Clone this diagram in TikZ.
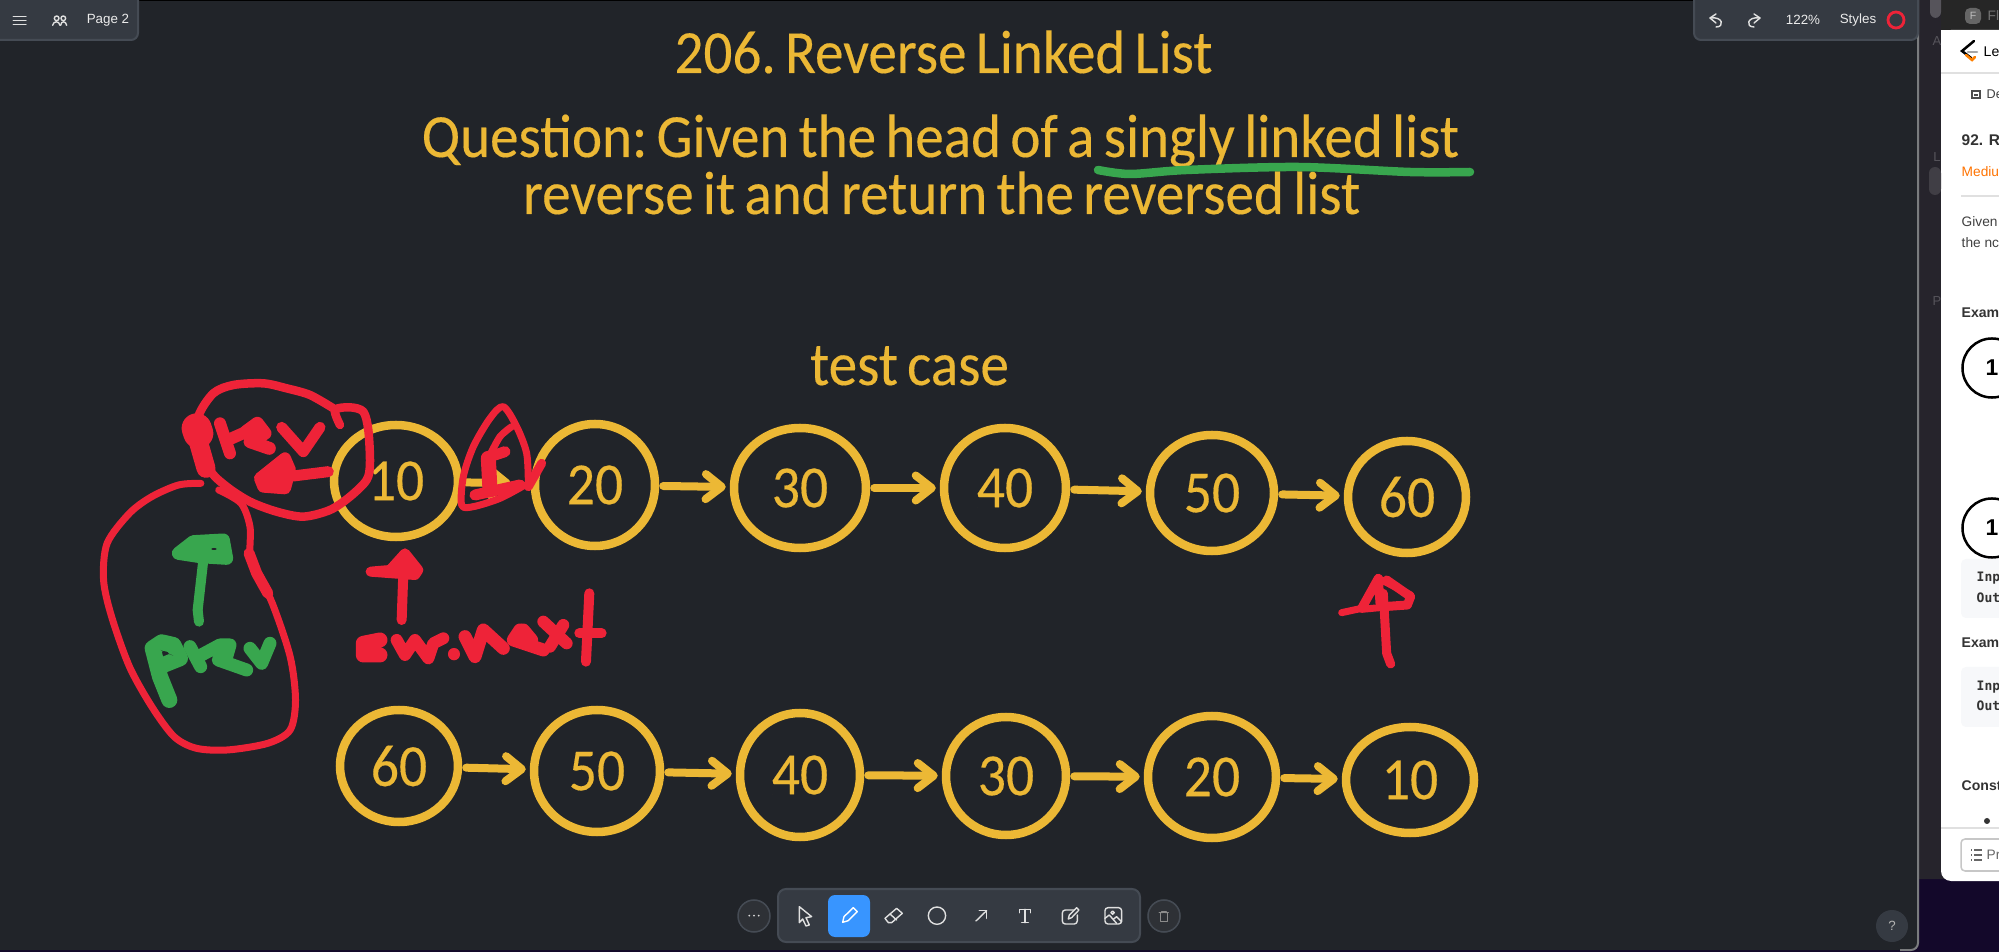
\documentclass[tikz,border=0pt]{standalone}
\usepackage{fontspec}
\setmainfont{Carlito}[FakeStretch=0.93, WordSpace=0.72, FakeBold=0.25]
\newfontfamily\uifont{Liberation Sans}
\newfontfamily\codefont{DejaVu Sans Mono}
\usetikzlibrary{shapes.geometric,arrows.meta}

\definecolor{canvasbg}{HTML}{212429}
\definecolor{panelbg}{HTML}{353A42}
\definecolor{panelline}{HTML}{454B54}
\definecolor{linkgold}{HTML}{ECB835}
\definecolor{inkred}{HTML}{EE2338}
\definecolor{inkgreen}{HTML}{38A64E}
\definecolor{toolblue}{HTML}{3895FF}
\definecolor{stripbg}{HTML}{26242C}
\definecolor{deskbg}{HTML}{13082A}
\definecolor{codebg}{HTML}{F7F8FA}

\tikzset{
  titletext/.style={text=linkgold, font=\frenchspacing\fontsize{17.45}{20}\selectfont, anchor=base, inner sep=0pt},
  listnode/.style={ellipse, draw=linkgold, line width=0.85mm, inner sep=0pt, text=linkgold, font=\fontsize{17}{20}\selectfont},
  linkarrow/.style={draw=linkgold, line width=0.8mm, line cap=round, line join=round, shorten <=0.4mm, shorten >=0.4mm, -{Straight Barb[length=1.6mm,width=2.5mm,round]}},
  redink/.style={draw=inkred, line width=0.7mm, line cap=round, line join=round},
  greenink/.style={draw=inkgreen, line width=1.3mm, line cap=round, line join=round},
  panelbox/.style={fill=panelbg, draw=panelline, line width=0.2mm},
  uiicon/.style={draw=white!88!black, line width=0.14mm, line cap=round, line join=round},
  uitext/.style={text=white!92!black, font=\uifont\fontsize{3.8}{4.4}\selectfont, inner sep=0pt},
  panetext/.style={anchor=west, inner sep=0pt, text=black!75, font=\uifont\fontsize{3.9}{5}\selectfont},
  panehead/.style={anchor=west, inner sep=0pt, text=black!80, font=\uifont\bfseries\fontsize{4}{5}\selectfont},
  panecode/.style={anchor=west, inner sep=0pt, text=black!80, font=\codefont\bfseries\fontsize{3.7}{5}\selectfont},
}

\begin{document}
\begin{tikzpicture}[x=0.01cm, y=-0.01cm]
  \useasboundingbox (0,0) rectangle (1999,952);

  % desktop behind and the canvas window
  \fill[deskbg] (0,0) rectangle (1999,952);
  \fill[stripbg, rounded corners=0.8mm] (1900,-10) rectangle (1999,879);
  \fill[black!85] (1941,0) rectangle (1999,32);
  \fill[canvasbg, rounded corners=0.7mm] (-20,-10) rectangle (1918,950);
  \draw[white!40!canvasbg, line width=0.2mm, rounded corners=0.7mm] (1918,0) -- (1918,950) -- (1900,950);
  \fill[black] (0,0) rectangle (1918,1);

  % right window
  \begin{scope}
    \clip (1900,0) rectangle (1999,952);
    \fill[white, rounded corners=1mm] (1941,30) rectangle (2040,881);
    \fill[white] (1941,30) rectangle (2040,60);
    \fill[white!22!stripbg, rounded corners=0.6mm] (1930,-10) rectangle (1941,18);
    \fill[white!12!stripbg, rounded corners=0.6mm] (1929,167) rectangle (1941,195);
    \node[text=white!22!stripbg, font=\uifont\fontsize{3.7}{4.4}\selectfont, inner sep=0pt] (letterA) at (1937,41) {A};
    \node[text=white!22!stripbg, font=\uifont\fontsize{3.7}{4.4}\selectfont, inner sep=0pt] (letterL) at (1937,157) {L};
    \node[text=white!22!stripbg, font=\uifont\fontsize{3.7}{4.4}\selectfont, inner sep=0pt] (letterP) at (1937,301) {P};

    \fill[black!60, rounded corners=0.5mm] (1965,8) rectangle (1981,24);
    \node[text=white!75!black, font=\uifont\fontsize{3}{4}\selectfont, inner sep=0pt] (tabF) at (1973,16) {F};
    \node[panetext, text=black!55] (tabFl) at (1987,16) {Fl};

    \draw[black, line width=0.25mm, line cap=round] (1974,41) -- (1962,51) -- (1971,58);
    \draw[orange, line width=0.25mm, line cap=round] (1966,55) -- (1972,60) -- (1975,57);
    \draw[black!35, line width=0.25mm, line cap=round] (1968,52) -- (1977,52);
    \node[panetext, text=black, font=\uifont\fontsize{4}{5}\selectfont] (paneLe) at (1983,52) {Le};
    \draw[black!12, line width=0.15mm] (1941,73) -- (1999,73);
    \draw[black!70, line width=0.12mm] (1972,91) rectangle (1980,98);
    \draw[black!70, line width=0.12mm] (1974,95) -- (1978,95);
    \node[panetext, font=\uifont\fontsize{3.6}{5}\selectfont] (paneDe) at (1986,94) {De};

    \node[panehead, font=\uifont\bfseries\fontsize{4.4}{5}\selectfont] (paneNum) at (1961,140) {92. R};
    \node[panetext, text=orange!90!red] (paneLevel) at (1961,172) {Mediu};
    \draw[black!12, line width=0.15mm] (1961,196) -- (1999,196);
    \node[panetext] (paneGiven) at (1961,222) {Given};
    \node[panetext] (paneThe) at (1961,243) {the nc};
    \node[panehead] (paneExOne) at (1961,313) {Exam};

    \node[circle, draw=black, line width=0.25mm, minimum width=5.9mm, inner sep=0pt, font=\uifont\bfseries\fontsize{6.5}{7}\selectfont] (paneOneA) at (1992,368) {1};
    \node[circle, draw=black, line width=0.25mm, minimum width=5.9mm, inner sep=0pt, font=\uifont\bfseries\fontsize{6.5}{7}\selectfont] (paneOneB) at (1992,528) {1};

    \fill[codebg, rounded corners=0.5mm] (1961,559) rectangle (2040,618);
    \node[panecode] (paneInA) at (1976,578) {Inp};
    \node[panecode] (paneOutA) at (1976,598) {Out};
    \node[panehead] (paneExTwo) at (1961,643) {Exam};
    \fill[codebg, rounded corners=0.5mm] (1961,667) rectangle (2040,727);
    \node[panecode] (paneInB) at (1976,687) {Inp};
    \node[panecode] (paneOutB) at (1976,706) {Out};
    \node[panehead] (paneConst) at (1961,786) {Const};
    \fill[black!80] (1987,821) circle (3);
    \draw[black!12, line width=0.15mm] (1941,828) -- (1999,828);
    \draw[black!22, line width=0.15mm, rounded corners=0.4mm] (2040,839) -- (1961,839) -- (1961,871) -- (2040,871);
    \foreach \y in {850,855,860} {
      \draw[black!60, line width=0.12mm] (1971,\y) -- (1972,\y);
      \draw[black!60, line width=0.12mm] (1974,\y) -- (1982,\y);
    };
    \node[panetext, text=black!60] (panePr) at (1986,855) {Pr};
  \end{scope}

  % top panels
  \draw[panelbox, rounded corners=0.7mm] (-20,-20) rectangle (138,40);
  \draw[panelbox, rounded corners=0.7mm] (1694,-20) rectangle (1918,40);
  \begin{scope}[scale=0.3333]
    \foreach \y in {50,62,74} {
      \draw[uiicon] (40,\y) -- (78,\y);
    };
    \draw[uiicon] (170,55) circle (7);
    \draw[uiicon] (190,55) circle (7);
    \draw[uiicon] (158,76) .. controls (160,62) and (178,62) .. (180,76);
    \draw[uiicon] (182,76) .. controls (183,62) and (198,62) .. (200,76);
  \end{scope}
  \node[uitext] (pagename) at (108,20) {Page 2};

  \draw[uiicon] (1716,14) -- (1710,18) -- (1716,23);
  \draw[uiicon] (1710,18) .. controls (1723,16) and (1725,27) .. (1716,27);
  \draw[uiicon] (1754,14) -- (1760,18) -- (1754,23);
  \draw[uiicon] (1760,18) .. controls (1747,16) and (1745,27) .. (1754,27);
  \node[uitext] (zoomlevel) at (1803,20) {122\%};
  \node[uitext] (stylesname) at (1858,20) {Styles};
  \draw[inkred, line width=0.28mm] (1896,20) circle (8);

  % titles
  \node[titletext] (title) at (943.5,73) {206. Reverse Linked List};
  \node[titletext] (question) at (940.5,157) {Question: Given the head of a singly linked list};
  \node[titletext] (reverse) at (941.5,214) {reverse it and return the reversed list};
  \node[titletext] (testcase) at (909.5,385) {test case};

  % both lists
  \foreach \name/\val/\cx/\cy/\rw/\rh in {
    a/10/396/481/124/112, b/20/595/485/120/122, c/30/800/488/132/120, d/40/1005/488/122/120, e/50/1212/493/124/116, f/60/1407/497/118/112,
    g/60/399/766/118/112, h/50/597/771/126/122, i/40/800/775/120/124, j/30/1006/776/120/118, k/20/1212/777/128/122, l/10/1410/780/128/106} {
    \node[listnode, minimum width=\rw*0.01cm, minimum height=\rh*0.01cm] (n\name) at (\cx,\cy) {\val};
  };
  \foreach \from/\to in {b/c, c/d, d/e, e/f, g/h, h/i, i/j, j/k, k/l} {
    \draw[linkarrow] (n\from) -- (n\to);
  };
  \draw[linkarrow, shorten >=2mm] (na) -- (nb);

  % green underline
  \draw[greenink, line width=0.85mm] plot[smooth] coordinates {(1098,170) (1130,174) (1186,170) (1298,167) (1410,172) (1470,172)};

  % red circle around the upper prev
  \begin{scope}[shift={(170,370)}, scale=0.3333]
    \draw[redink, line width=0.85mm] plot[smooth] coordinates {(510,165) (495,120) (540,112) (580,125) (595,180) (600,280) (590,330) (540,380) (480,420) (400,440) (320,425) (240,395) (170,350) (120,300) (95,210) (85,140) (130,70) (190,45) (280,40) (350,55) (420,75) (490,115)};
    \draw[redink, line width=3mm] (80,175) -- (85,190);
    \draw[redink, line width=1.9mm] (85,215) -- (108,295);
    \draw[redink, line width=1.2mm] (150,160) -- (180,250);
    \draw[redink, line width=1.2mm] (185,205) -- (230,185);
    \draw[redink, line width=1.3mm] (228,185) -- (262,160) -- (285,190) -- (240,215) -- (298,235);
    \draw[redink, line width=1.1mm] (335,172) -- (400,245) -- (450,172);
    \draw[redink, line width=1.1mm] (475,305) -- (370,318);
    \draw[redink, line width=1.2mm, fill=inkred] (345,265) -- (270,325) -- (280,350) -- (345,355) -- (360,300) -- cycle;
  \end{scope}

  % red loop around the lower prev
  \begin{scope}[shift={(0,340)}, xscale=0.4464, yscale=0.3333]
    \draw[redink] plot[smooth] coordinates {(450,430) (400,435) (340,470) (290,520) (240,610) (232,720) (250,830) (290,980) (340,1100) (390,1190) (440,1225) (510,1230) (600,1210) (650,1170) (662,1080) (650,950) (610,790) (570,680) (560,640) (560,560) (540,490) (490,450)};
    \draw[redink, line width=1.1mm] (558,640) -- (575,700) -- (600,760);
  \end{scope}

  % red loop on the first link
  \begin{scope}[shift={(440,390)}, scale=0.3333]
    \draw[redink] plot[smooth] coordinates {(265,280) (260,190) (230,110) (190,50) (150,85) (100,170) (70,260) (65,345) (100,350) (180,325) (255,285)};
    \draw[redink] plot[smooth] coordinates {(215,110) (180,140) (150,195)};
    \draw[redink, line width=1.5mm] (145,205) -- (150,300);
    \draw[redink, line width=1.1mm] (195,185) -- (150,200);
    \draw[redink, line width=1.1mm] (105,315) -- (240,285);
    \draw[redink, line width=0.9mm] (265,290) -- (305,220);
  \end{scope}

  % green arrow and green prev
  \begin{scope}[shift={(130,520)}, scale=0.3333]
    \draw[greenink, line width=1mm] (207,305) -- (203,270) -- (220,120);
    \draw[greenink, line width=1.3mm, fill=inkgreen] (145,100) -- (190,65) -- (280,60) -- (290,115) -- (210,110) -- cycle;
    \fill[canvasbg] (252,87) ellipse (8 and 3);
    \draw[greenink, line width=1.6mm] (118,540) -- (90,470) -- (68,385) -- (95,367) -- (130,375) -- (150,415) -- (100,435);
    \fill[canvasbg] (112,400) -- (92,390) -- (130,407) -- cycle;
    \draw[greenink] (180,380) -- (212,440);
    \draw[greenink] (205,410) -- (270,375) -- (300,375) -- (290,410) -- (265,420) -- (350,450);
    \draw[greenink] (360,385) -- (395,430) -- (420,370);
  \end{scope}

  % red arrow and cur.next
  \begin{scope}[shift={(340,540)}, scale=0.3333]
    \draw[redink, line width=1mm] (185,240) -- (190,100);
    \draw[redink, line width=1mm, fill=inkred] (92,95) -- (150,90) -- (195,40) -- (235,90) -- (225,105) -- cycle;
    \draw[redink, line width=1.5mm] (120,300) -- (70,310) -- (70,345) -- (120,345);
    \draw[redink, line width=1.2mm] (170,300) -- (195,345) -- (225,300) -- (265,355) -- (280,310) -- (310,295);
    \draw[redink, line width=1.2mm] (342,342) -- (342,343);
    \draw[redink, line width=1.3mm] (375,290) -- (405,350) -- (430,270) -- (490,325);
    \draw[redink, line width=1.3mm] (540,270) -- (520,300) -- (610,330);
    \draw[redink, line width=1.3mm] (550,270) -- (575,300);
    \draw[redink, line width=1.2mm] (610,245) -- (680,310);
    \draw[redink, line width=1.2mm] (670,255) -- (630,320);
    \draw[redink, line width=1mm] (748,160) -- (738,365);
    \draw[redink, line width=1mm] (718,280) -- (785,280);
  \end{scope}

  % red arrow under the last node
  \begin{scope}[shift={(1320,560)}, scale=0.3333]
    \draw[redink, line width=0.9mm] (212,312) -- (200,280) -- (190,100);
    \draw[redink, line width=0.7mm] (65,158) -- (125,145) -- (175,55) -- (272,105) -- (265,135) -- (125,148);
    \draw[redink, line width=0.9mm] (125,145) -- (175,55) -- (180,130);
    \draw[redink, line width=0.9mm] (200,60) -- (272,110) -- (262,135) -- (190,140);
  \end{scope}

  % bottom toolbar
  \fill[white!6!canvasbg] (754,916) circle (16);
  \draw[panelline, line width=0.15mm] (754,916) circle (16);
  \draw[white!6!canvasbg, line width=0.15mm, fill=white!6!canvasbg] (1164,916) circle (16);
  \draw[panelline, line width=0.15mm] (1164,916) circle (16);
  \draw[panelbox, rounded corners=0.8mm] (778,889) rectangle (1140,942);
  \fill[toolblue, rounded corners=0.7mm] (828,895) rectangle (870,937);
  \begin{scope}[shift={(700,870)}, scale=0.3333]
    \foreach \x in {148,162,176} {
      \fill[white!85!black] (\x,137) circle (3);
    };
    \draw[uiicon] (298,110) -- (335,140) -- (318,143) -- (328,165) -- (318,168) -- (308,147) -- (298,158) -- cycle;
    \draw[uiicon, draw=white] (428,157) -- (432,140) -- (460,113) -- (472,125) -- (445,152) -- cycle;
    \draw[uiicon] (555,145) -- (590,115) -- (607,130) -- (575,158) -- (565,158) -- cycle;
    \draw[uiicon] (570,132) -- (590,150);
    \draw[uiicon] (711,137) circle (26);
    \draw[uiicon] (828,153) -- (860,122);
    \draw[uiicon] (838,122) -- (860,122) -- (860,145);
    \draw[uiicon] (958,128) -- (958,118) -- (992,118) -- (992,128);
    \draw[uiicon] (975,118) -- (975,158);
    \draw[uiicon] (965,158) -- (985,158);
    \draw[uiicon, rounded corners=0.3mm] (1120,120) -- (1087,120) -- (1087,162) -- (1132,162) -- (1132,135);
    \draw[uiicon] (1105,147) -- (1108,135) -- (1130,113) -- (1137,120) -- (1115,143) -- cycle;
    \draw[uiicon, rounded corners=0.3mm] (1215,113) rectangle (1265,162);
    \draw[uiicon] (1238,128) circle (5);
    \draw[uiicon] (1215,145) -- (1228,135) -- (1250,160);
    \draw[uiicon] (1240,148) -- (1250,140) -- (1265,155);
    \draw[uiicon, draw=white!55!black] (1378,128) -- (1405,128);
    \draw[uiicon, draw=white!55!black] (1382,130) -- (1382,155) -- (1402,155) -- (1402,130);
    \draw[uiicon, draw=white!55!black] (1386,128) -- (1386,124) -- (1398,124) -- (1398,128);
  \end{scope}

  % help button
  \fill[panelbg] (1892,926) circle (16);
  \node[uitext, text=white!70!black] (helpmark) at (1892,926) {?};
\end{tikzpicture}
\end{document}
